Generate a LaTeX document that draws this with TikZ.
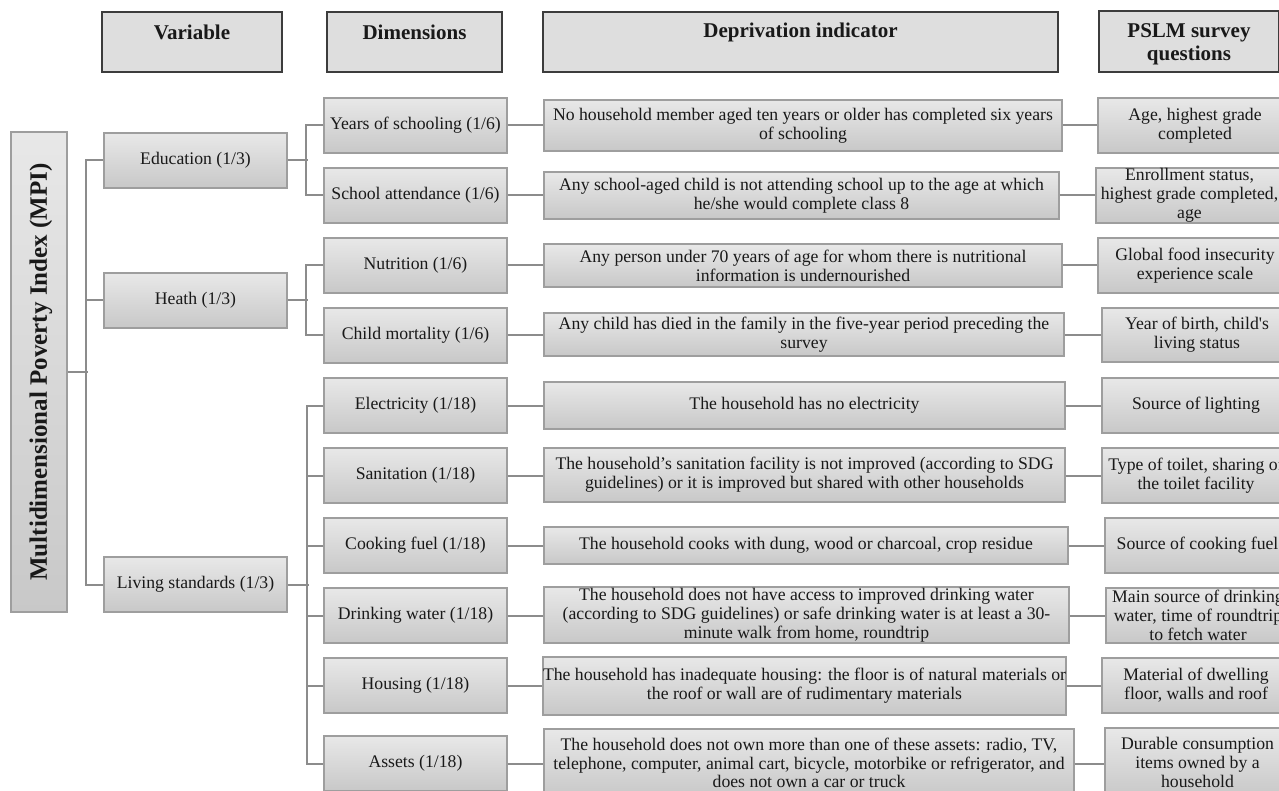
\documentclass[tikz,border=0pt]{standalone}
\usepackage{fontspec}
\setmainfont{Liberation Serif}
\definecolor{boxtop}{RGB}{232,232,232}
\definecolor{boxbot}{RGB}{200,200,200}
\definecolor{boxdraw}{RGB}{158,158,158}
\definecolor{headfill}{RGB}{222,222,222}
\definecolor{headdraw}{RGB}{60,60,60}
\definecolor{linec}{RGB}{140,140,140}
\definecolor{txt}{RGB}{25,25,25}
\newcommand\bodyfont{\fontsize{17.7}{18.8}\selectfont}
\newcommand\headfont{\fontsize{21}{23}\selectfont\bfseries}
\tikzset{
  box/.style={draw=boxdraw, line width=1.3pt, top color=boxtop, bottom color=boxbot,
    align=center, inner sep=0pt, font=\bodyfont, text=txt},
  headbox/.style={draw=headdraw, line width=1.2pt, fill=headfill, inner sep=0pt},
  headtext/.style={font=\headfont, text=txt, align=center, inner sep=0pt},
  conn/.style={draw=linec, line width=2pt},
}
% \bx{name}{x1}{y1}{x2}{y2}{text}
\newcommand\bx[6]{\node[box, minimum width={(#4-#2)*1pt}, minimum height={(#5-#3)*1pt}]
  (#1) at ({(#2+#4)/2},{(#3+#5)/2}) {#6};}
\newcommand\hb[5]{\node[headbox, minimum width={(#4-#2)*1pt}, minimum height={(#5-#3)*1pt}]
  (#1) at ({(#2+#4)/2},{(#3+#5)/2}) {};}
\begin{document}
\begin{tikzpicture}[x=1pt,y=-1pt]
\useasboundingbox (0,0) rectangle (1279,791);
\clip (0,0) rectangle (1279,791);
\fill[white] (0,0) rectangle (1279,791);

% headers
\hb{hvar}{102}{12}{282}{72}
\hb{hdim}{327}{12}{502}{72}
\hb{hdep}{543}{12}{1058}{72}
\hb{hpslm}{1099}{11}{1278.5}{72}
\node[headtext] (tvar) at (192,32) {Variable};
\node[headtext] (tdim) at (414.5,32) {Dimensions};
\node[headtext] (tdep) at (800.5,32) {Deprivation indicator};
\node[headtext] (tpslm) at (1189,44) {PSLM survey\\questions};

% MPI
\node[box, minimum width=56pt, minimum height=480pt] (mpi) at (39,372) {};
\node[font=\fontsize{25}{27}\selectfont\bfseries, text=txt, rotate=90, inner sep=0pt] (tmpi) at (41,372) {Multidimensional Poverty Index (MPI)};

% variables
\bx{edu}{104}{133}{287}{188}{Education (1/3)}
\bx{hea}{104}{273}{287}{328}{Heath (1/3)}
\bx{liv}{104}{557}{287}{612}{Living standards (1/3)}

% dimensions
\bx{d1}{324}{98}{507}{153}{Years of schooling (1/6)}
\bx{d2}{324}{168}{507}{223}{School attendance (1/6)}
\bx{d3}{324}{238}{507}{293}{Nutrition (1/6)}
\bx{d4}{324}{308}{507}{363}{Child mortality (1/6)}
\bx{d5}{324}{378}{507}{433}{Electricity (1/18)}
\bx{d6}{324}{448}{507}{503}{Sanitation (1/18)}
\bx{d7}{324}{518}{507}{573}{Cooking fuel (1/18)}
\bx{d8}{324}{588}{507}{643}{Drinking water (1/18)}
\bx{d9}{324}{658}{507}{713}{Housing (1/18)}
\bx{d10}{324}{736}{507}{791}{Assets (1/18)}

% deprivation indicators
\bx{e1}{544}{100}{1062}{151}{No household member aged ten years or older has completed six years\\of schooling}
\bx{e2}{544}{172}{1059}{219}{Any school-aged child is not attending school up to the age at which\\he/she would complete class 8}
\bx{e3}{544}{244}{1062}{287}{Any person under 70 years of age for whom there is nutritional\\information is undernourished}
\bx{e4}{544}{313}{1064}{356}{Any child has died in the family in the five-year period preceding the\\survey}
\bx{e5}{544}{382}{1065}{429}{The household has no electricity}
\bx{e6}{544}{448}{1065}{502}{The household’s sanitation facility is not improved (according to SDG\\guidelines) or it is improved but shared with other households}
\bx{e7}{544}{527}{1068}{564}{The household cooks with dung, wood or charcoal, crop residue}
\bx{e8}{544}{587}{1069}{643}{The household does not have access to improved drinking water\\(according to SDG guidelines) or safe drinking water is at least a 30-\\minute walk from home, roundtrip}
\bx{e9}{544}{657}{1065}{715}{The household has inadequate housing: the floor is of natural materials or\\the roof or wall are of rudimentary materials}
\bx{e10}{544}{729}{1074}{797}{The household does not own more than one of these assets: radio, TV,\\telephone, computer, animal cart, bicycle, motorbike or refrigerator, and\\does not own a car or truck}

% PSLM survey questions
\bx{p1}{1098}{98}{1292}{153}{Age, highest grade\\completed}
\bx{p2}{1096}{168}{1283}{223}{Enrollment status,\\highest grade completed,\\age}
\bx{p3}{1098}{238}{1292}{293}{Global food insecurity\\experience scale}
\bx{p4}{1102}{308}{1292}{362}{Year of birth, child\textquotesingle s\\living status}
\bx{p5}{1102}{378}{1290}{433}{Source of lighting}
\bx{p6}{1102}{448}{1290}{503}{Type of toilet, sharing of\\the toilet facility}
\bx{p7}{1105}{518}{1290}{573}{Source of cooking fuel}
\bx{p8}{1106}{588}{1290}{643}{Main source of drinking\\water, time of roundtrip\\to fetch water}
\bx{p9}{1102}{658}{1290}{713}{Material of dwelling\\floor, walls and roof}
\bx{p10}{1105}{728}{1290}{797}{Durable consumption\\items owned by a\\household}

% connectors: MPI to variables
\draw[conn] (mpi.east) -- ++(20,0);
\draw[conn] (edu.west) -- ++(-17,0) |- (liv.west);
\draw[conn] (hea.west) -- ++(-17,0);
% variables to dimensions
\draw[conn] (edu.east) -- ++(20,0);
\draw[conn] (d1.west) -- ++(-17,0) |- (d2.west);
\draw[conn] (hea.east) -- ++(20,0);
\draw[conn] (d3.west) -- ++(-17,0) |- (d4.west);
\draw[conn] (liv.east) -- ++(21,0);
\draw[conn] (d5.west) -- ++(-16,0) |- (d10.west);
\foreach \n in {d6,d7,d8,d9} \draw[conn] (\n.west) -- ++(-16,0);
% dimensions to indicators to questions
\foreach \i in {1,...,10} {
  \draw[conn] (d\i.east) -- (d\i.east -| e\i.west);
  \draw[conn] (d\i.east -| e\i.east) -- (d\i.east -| p\i.west);
}
\end{tikzpicture}
\end{document}
